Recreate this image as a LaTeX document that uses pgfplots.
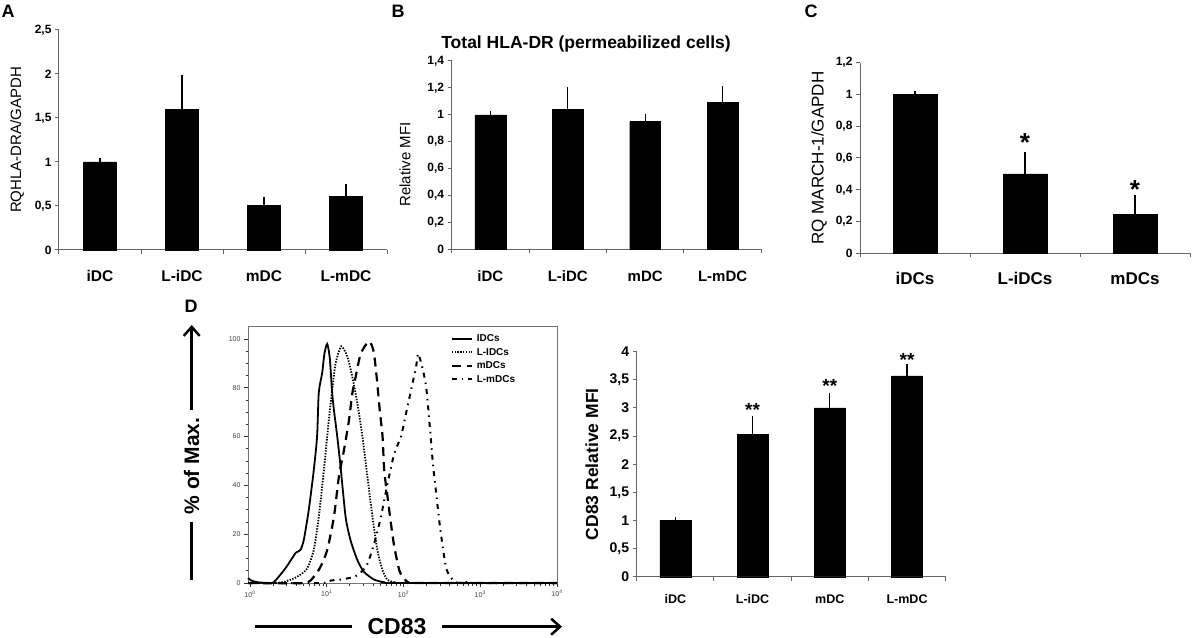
\documentclass[border=0pt]{standalone}
\usepackage{fontspec}
\setmainfont{Liberation Sans}
\usepackage{pgfplots}
\usepackage{pgfplotstable}
\pgfplotsset{compat=1.18}
\usetikzlibrary{arrows.meta}
\newcommand{\fs}[1]{\fontsize{#1}{#1}\selectfont}

\pgfplotstableread{
x y e
0 1.00 0.01
1 1.60 0.35
2 0.51 0.06
3 0.61 0.11
}\dataA
\pgfplotstableread{
x y e
0 1.00 0.005
1 1.04 0.145
2 0.95 0.035
3 1.09 0.10
}\dataB
\pgfplotstableread{
x y e
0 1.00 0.005
1 0.50 0.12
2 0.245 0.10
}\dataC
\pgfplotstableread{
x y e
0 1.00 0.01
1 2.53 0.28
2 3.00 0.22
3 3.57 0.16
}\dataD

\pgfplotsset{
  excelbar/.style={
    scale only axis, anchor=south west,
    axis x line*=bottom, axis y line*=left,
    axis line style={black!60, line width=1pt},
    xmin=-0.5, ymin=0,
    tick align=outside, major tick length=4pt,
    tick style={black!60, line width=1pt},
    /pgf/number format/use comma,
    /pgf/number format/assume math mode=true,
    ylabel style={anchor=center},
    clip=false,
  },
  barstyle/.style={ybar, bar width=0.4, fill=black, draw=black,
    error bars/.cd, y dir=plus, y explicit,
    error bar style={line width=1.2pt, black},
    error mark options={line width=1.2pt, mark size=3pt, black}},
}

\begin{document}
\begin{tikzpicture}[x=1pt,y=1pt]
\path[use as bounding box] (0,0) rectangle (1198,637);

% ---------- A ----------
\node[font=\bfseries\fs{18}] at (8,626) {A};
\begin{axis}[excelbar, at={(59pt,387pt)}, width=328pt, height=220pt,
  xmax=3.5, ymax=2.5, ytick={0,0.5,...,2.5},
  xtick={-0.5,0.5,1.5,2.5,3.5}, xticklabels={iDC,L-iDC,mDC,L-mDC,{}},
  xticklabel style={anchor=center, xshift=41pt, yshift=-22pt, font=\bfseries\fs{15.5}},
  yticklabel style={font=\bfseries\fs{12}},
  ylabel={RQHLA-DRA/GAPDH}, ylabel style={at={(axis description cs:-0.128,0.5)}, font=\fs{15}}]
\addplot[barstyle] table[x=x,y=y,y error=e] {\dataA};
\end{axis}

% ---------- B ----------
\node[font=\bfseries\fs{18}] at (398,626) {B};
\begin{axis}[excelbar, at={(451.7pt,387.7pt)}, width=309.6pt, height=188.3pt,
  xmax=3.5, ymax=1.4, ytick={0,0.2,...,1.4},
  xtick={-0.5,0.5,1.5,2.5,3.5}, xticklabels={iDC,L-iDC,mDC,L-mDC,{}},
  xticklabel style={anchor=center, xshift=38.7pt, yshift=-23pt, font=\bfseries\fs{15}},
  yticklabel style={font=\bfseries\fs{12}},
  title={Total HLA-DR (permeabilized cells)},
  title style={at={(axis description cs:0.434,1.059)}, anchor=center, yshift=0pt, font=\bfseries\fs{17.5}},
  ylabel={Relative MFI}, ylabel style={at={(axis description cs:-0.151,0.45)}, font=\fs{15}}]
\addplot[barstyle] table[x=x,y=y,y error=e] {\dataB};
\end{axis}

% ---------- C ----------
\node[font=\bfseries\fs{18}] at (811,626) {C};
\begin{axis}[excelbar, at={(860pt,383.7pt)}, width=330pt, height=190.6pt,
  xmax=2.5, ymax=1.2, ytick={0,0.2,...,1.2},
  xtick={-0.5,0.5,1.5,2.5}, xticklabels={iDCs,L-iDCs,mDCs,{}},
  xticklabel style={anchor=center, xshift=55pt, yshift=-21pt, font=\bfseries\fs{17}},
  yticklabel style={font=\bfseries\fs{12}},
  ylabel={RQ MARCH-1/GAPDH}, ylabel style={at={(axis description cs:-0.124,0.5)}, font=\fs{17}}]
\addplot[barstyle] table[x=x,y=y,y error=e] {\dataC};
\node[anchor=north, inner sep=0pt, font=\bfseries\fs{26}] at (axis cs:1,0.755) {*};
\node[anchor=north, inner sep=0pt, font=\bfseries\fs{26}] at (axis cs:2,0.461) {*};
\end{axis}

% ---------- D histogram ----------
\node[font=\bfseries\fs{18}] at (191,331) {D};
\begin{axis}[scale only axis, anchor=south west, at={(248pt,54pt)}, width=309pt, height=257pt,
  xmin=-0.026, xmax=4, ymin=0, ymax=105.3,
  axis line style={black!55, line width=0.8pt},
  xtick={0,1,2,3,4},
  xticklabels={10\textsuperscript{0},10\textsuperscript{1},10\textsuperscript{2},10\textsuperscript{3},10\textsuperscript{4}},
  minor xtick={0.301,0.477,0.602,0.699,0.778,0.845,0.903,0.954,
               1.301,1.477,1.602,1.699,1.778,1.845,1.903,1.954,
               2.301,2.477,2.602,2.699,2.778,2.845,2.903,2.954,
               3.301,3.477,3.602,3.699,3.778,3.845,3.903,3.954},
  ytick={0,20,...,100}, minor y tick num=3,
  tick align=outside, xtick pos=bottom, ytick pos=left,
  major tick length=4pt, minor tick length=2.5pt,
  tick style={black!80, line width=0.8pt},
  ticklabel style={font=\fs{7}, text=black!75},
  /pgf/number format/assume math mode=true,
  legend style={at={(axis description cs:0.655,0.975)}, anchor=north west, draw=none, fill=none,
    font=\bfseries\fs{10}, row sep=1pt, inner sep=0pt, nodes={inner xsep=4pt}},
  legend cell align=left,
  legend image code/.code={\draw[#1] (0pt,0pt) -- (20pt,0pt);},
  clip=false]
\addplot[black, line width=1.8pt, smooth, tension=0.4] coordinates {
(-0.026,2) (0.02,1) (0.1,0.3) (0.284,0) (0.33,1) (0.372,2.5) (0.459,5.9) (0.546,10) (0.60,12.5)
(0.656,13.5) (0.70,17.5) (0.765,29.8) (0.83,46) (0.874,60) (0.896,78) (0.94,86) (0.97,94) (1.006,98)
(1.04,92) (1.07,78) (1.093,71) (1.137,60) (1.18,47.6) (1.246,27) (1.31,17.5) (1.40,9.3) (1.486,4.5)
(1.617,1.4) (1.75,0.3) (1.9,0) (4,0)};
\addlegendentry{IDCs}
\addplot[black, line width=1.8pt, dash pattern=on 1.4pt off 1.4pt, smooth, tension=0.4] coordinates {
(-0.026,0) (0.306,0) (0.45,0.5) (0.612,2.5) (0.743,5.9) (0.83,13.4) (0.896,27) (0.962,46) (1.027,66.8)
(1.071,79) (1.115,90) (1.189,97) (1.268,92.7) (1.333,84.5) (1.399,73.6) (1.465,60) (1.53,43.5)
(1.596,27) (1.66,13.4) (1.727,5.2) (1.79,1.4) (1.88,0.3) (2.0,0) (4,0)};
\addlegendentry{L-IDCs}
\addplot[black, line width=2.2pt, dash pattern=on 9pt off 6pt, smooth, tension=0.4] coordinates {
(-0.026,0) (0.70,0) (0.83,2.5) (0.918,6.6) (1.005,13.4) (1.093,27) (1.158,43.5) (1.224,54.4) (1.29,66.8)
(1.333,77.7) (1.377,84.5) (1.443,94) (1.55,99) (1.61,95) (1.65,84.5) (1.69,70.9) (1.727,60)
(1.749,46) (1.792,35.3) (1.836,24.4) (1.88,14.8) (1.945,5.2) (1.99,2.5) (2.055,0.4) (2.15,0) (4,0)};
\addlegendentry{mDCs}
\addplot[black, line width=2pt, dash pattern=on 5pt off 5pt on 1.5pt off 5pt, smooth, tension=0.4] coordinates {
(-0.026,0) (0.962,0) (1.05,1) (1.18,1.4) (1.355,2.5) (1.45,4.5) (1.53,7.9) (1.617,16.1) (1.705,27)
(1.792,40.8) (1.88,53) (1.967,60) (2.033,69.5) (2.098,79) (2.164,88.6) (2.19,94) (2.243,88.6)
(2.295,80.4) (2.339,65.4) (2.383,49) (2.426,36.7) (2.47,24.4) (2.514,14.1) (2.557,5.9) (2.6,3.1)
(2.667,0.4) (2.754,0) (2.85,0.5) (2.9,0) (4,0)};
\addlegendentry{L-mDCs}
\end{axis}
% axis captions with arrows
\draw[line width=3pt] (191.7,57) -- (191.7,115);
\node[rotate=90, font=\bfseries\fs{21}] at (191.7,171) {\% of Max.};
\draw[line width=3pt, -{Straight Barb[length=9pt,width=16pt,line width=2.5pt]}] (191.7,227) -- (191.7,312);
\draw[line width=3pt] (255,10.3) -- (352,10.3);
\node[font=\bfseries\fs{23}] at (397,10.3) {CD83};
\draw[line width=3pt, -{Straight Barb[length=9pt,width=16pt,line width=2.5pt]}] (442,10.3) -- (562,10.3);

% ---------- D bars ----------
\begin{axis}[excelbar, at={(636.7pt,60.3pt)}, width=309pt, height=225pt,
  xmax=3.5, ymax=4, ytick={0,0.5,...,4},
  xtick={-0.5,0.5,1.5,2.5,3.5}, xticklabels={iDC,L-iDC,mDC,L-mDC,{}},
  xticklabel style={anchor=center, xshift=38.6pt, yshift=-18pt, font=\bfseries\fs{12.5}},
  yticklabel style={font=\bfseries\fs{14}},
  ylabel={CD83 Relative MFI}, ylabel style={at={(axis description cs:-0.145,0.5)}, font=\bfseries\fs{17.5}}]
\addplot[barstyle] table[x=x,y=y,y error=e] {\dataD};
\node[anchor=north, inner sep=0pt, font=\bfseries\fs{19}] at (axis cs:1,3.08) {**};
\node[anchor=north, inner sep=0pt, font=\bfseries\fs{19}] at (axis cs:2,3.51) {**};
\node[anchor=north, inner sep=0pt, font=\bfseries\fs{19}] at (axis cs:3,3.98) {**};
\end{axis}
\end{tikzpicture}
\end{document}
